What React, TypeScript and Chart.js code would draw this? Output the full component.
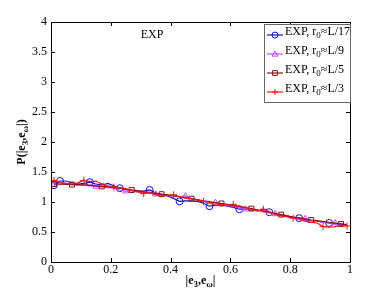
import React, { useEffect, useRef } from "react";
import { Chart, registerables } from "chart.js";

Chart.register(...registerables);

const xBins = [
  0.01, 0.03, 0.05, 0.07, 0.09, 0.11, 0.13, 0.15, 0.17, 0.19,
  0.21, 0.23, 0.25, 0.27, 0.29, 0.31, 0.33, 0.35, 0.37, 0.39,
  0.41, 0.43, 0.45, 0.47, 0.49, 0.51, 0.53, 0.55, 0.57, 0.59,
  0.61, 0.63, 0.65, 0.67, 0.69, 0.71, 0.73, 0.75, 0.77, 0.79,
  0.81, 0.83, 0.85, 0.87, 0.89, 0.91, 0.93, 0.95, 0.97, 0.99,
];

const seriesL17 = [
  1.28, 1.35, 1.35, 1.32, 1.3, 1.31, 1.33, 1.3, 1.28, 1.31,
  1.27, 1.23, 1.21, 1.2, 1.18, 1.18, 1.2, 1.15, 1.12, 1.1,
  1.06, 1.01, 1.02, 1.02, 1.01, 0.98, 0.93, 0.95, 0.95, 0.93,
  0.91, 0.88, 0.88, 0.87, 0.86, 0.85, 0.83, 0.8, 0.78, 0.76,
  0.74, 0.73, 0.71, 0.69, 0.68, 0.67, 0.65, 0.64, 0.63, 0.62,
];

const seriesL9 = [
  1.29, 1.3, 1.31, 1.29, 1.28, 1.28, 1.27, 1.26, 1.25, 1.24,
  1.23, 1.2, 1.18, 1.19, 1.17, 1.16, 1.15, 1.13, 1.11, 1.11,
  1.1, 1.08, 1.1, 1.05, 1.03, 1.01, 0.98, 0.99, 0.96, 0.94,
  0.93, 0.9, 0.88, 0.87, 0.86, 0.84, 0.82, 0.8, 0.78, 0.77,
  0.75, 0.73, 0.72, 0.69, 0.68, 0.66, 0.65, 0.65, 0.62, 0.61,
];

const seriesL5 = [
  1.3, 1.3, 1.295, 1.29, 1.29, 1.285, 1.28, 1.27, 1.26, 1.255,
  1.24, 1.23, 1.215, 1.2, 1.19, 1.17, 1.16, 1.145, 1.13, 1.12,
  1.1, 1.09, 1.07, 1.055, 1.04, 1.02, 1.005, 0.99, 0.975, 0.96,
  0.94, 0.925, 0.905, 0.89, 0.87, 0.85, 0.83, 0.81, 0.79, 0.77,
  0.75, 0.735, 0.72, 0.7, 0.69, 0.675, 0.66, 0.65, 0.635, 0.625,
];

const seriesL3 = [
  1.36, 1.33, 1.31, 1.3, 1.32, 1.36, 1.34, 1.35, 1.3, 1.27,
  1.25, 1.24, 1.22, 1.19, 1.17, 1.14, 1.16, 1.12, 1.1, 1.11,
  1.12, 1.09, 1.07, 1.05, 1.03, 1.01, 1.0, 0.94, 0.96, 0.95,
  0.96, 0.92, 0.91, 0.88, 0.85, 0.88, 0.84, 0.79, 0.77, 0.75,
  0.73, 0.71, 0.68, 0.66, 0.65, 0.59, 0.58, 0.59, 0.61, 0.6,
];

const legendNames = ["L/17", "L/9", "L/5", "L/3"];
const xTicks = [0, 0.2, 0.4, 0.6, 0.8, 1];
const yTicks = [0, 0.5, 1, 1.5, 2, 2.5, 3, 3.5, 4];

const colors = ["#1010d0", "#c048ff", "#8b1414", "#ff1010"];
const pointStyles = ["circle", "triangle", "rect", "cross"];
const markerSets = [
  [0, 1, 6, 11, 16, 21, 26, 31, 36, 41, 46],
  [0, 7, 12, 17, 22, 27, 32, 37, 42, 47],
  [0, 3, 8, 13, 18, 23, 28, 33, 38, 43, 48],
  [0, 5, 10, 15, 20, 25, 30, 35, 40, 45, 49],
];

const SERIF = '"Liberation Serif", "DejaVu Serif", serif';

type Part = { t: string; sub?: boolean };

function richWidth(ctx: CanvasRenderingContext2D, parts: Part[], size: number, bold: boolean) {
  let w = 0;
  for (const p of parts) {
    ctx.font = `${bold ? "bold " : ""}${p.sub ? Math.round(size * 0.72) : size}px ${SERIF}`;
    w += ctx.measureText(p.t).width;
  }
  return w;
}

function drawRich(
  ctx: CanvasRenderingContext2D,
  parts: Part[],
  x: number,
  y: number,
  size: number,
  bold: boolean,
  color: string
) {
  ctx.fillStyle = color;
  ctx.textBaseline = "alphabetic";
  ctx.textAlign = "left";
  let cx = x;
  for (const p of parts) {
    const s = p.sub ? Math.round(size * 0.72) : size;
    ctx.font = `${bold ? "bold " : ""}${s}px ${SERIF}`;
    ctx.fillText(p.t, cx, p.sub ? y + 3 : y);
    cx += ctx.measureText(p.t).width;
  }
}

function drawMarker(ctx: CanvasRenderingContext2D, style: string, x: number, y: number, r: number, color: string) {
  ctx.save();
  ctx.strokeStyle = color;
  ctx.lineWidth = 1;
  ctx.beginPath();
  if (style === "circle") {
    ctx.arc(x, y, r, 0, Math.PI * 2);
  } else if (style === "triangle") {
    ctx.moveTo(x, y - r);
    ctx.lineTo(x + r, y + r * 0.7);
    ctx.lineTo(x - r, y + r * 0.7);
    ctx.closePath();
  } else if (style === "rect") {
    ctx.rect(x - r * 0.8, y - r * 0.8, r * 1.6, r * 1.6);
  } else {
    ctx.moveTo(x - r, y);
    ctx.lineTo(x + r, y);
    ctx.moveTo(x, y - r);
    ctx.lineTo(x, y + r);
  }
  ctx.stroke();
  ctx.restore();
}

const framePlugin = {
  id: "framePlugin",
  afterDraw(chart: any) {
    const ctx: CanvasRenderingContext2D = chart.ctx;
    const { left, right, top, bottom } = chart.chartArea;
    const xs = chart.scales.x;
    const ys = chart.scales.y;
    ctx.save();
    ctx.strokeStyle = "#000";
    ctx.lineWidth = 1;
    ctx.strokeRect(Math.round(left) + 0.5, Math.round(top) + 0.5, Math.round(right - left), Math.round(bottom - top));
    const tl = 4;
    ctx.beginPath();
    for (const v of xTicks) {
      const px = Math.round(xs.getPixelForValue(v)) + 0.5;
      ctx.moveTo(px, bottom);
      ctx.lineTo(px, bottom - tl);
      ctx.moveTo(px, top);
      ctx.lineTo(px, top + tl);
    }
    for (const v of yTicks) {
      const py = Math.round(ys.getPixelForValue(v)) + 0.5;
      ctx.moveTo(left, py);
      ctx.lineTo(left + tl, py);
      ctx.moveTo(right, py);
      ctx.lineTo(right - tl, py);
    }
    ctx.stroke();

    ctx.font = `12px ${SERIF}`;
    ctx.fillStyle = "#000";
    ctx.textAlign = "center";
    ctx.textBaseline = "middle";
    ctx.fillText("EXP", 152, 35);

    const xParts: Part[] = [{ t: "|e" }, { t: "3", sub: true }, { t: ",e" }, { t: "ω", sub: true }, { t: "|" }];
    const xw = richWidth(ctx, xParts, 12, true);
    drawRich(ctx, xParts, (left + right) / 2 - xw / 2, 284, 12, true, "#000");

    const yParts: Part[] = [
      { t: "P(|e" },
      { t: "3", sub: true },
      { t: ",e" },
      { t: "ω", sub: true },
      { t: "|)" },
    ];
    const yw = richWidth(ctx, yParts, 12, true);
    ctx.save();
    ctx.translate(25, (top + bottom) / 2);
    ctx.rotate(-Math.PI / 2);
    drawRich(ctx, yParts, -yw / 2, 0, 12, true, "#000");
    ctx.restore();

    const lx = 264.5;
    const ly = 24.5;
    const lw = 86;
    const lh = 78;
    ctx.fillStyle = "#fff";
    ctx.fillRect(lx, ly, lw, lh);
    ctx.strokeStyle = "#666";
    ctx.lineWidth = 1;
    ctx.strokeRect(lx, ly, lw, lh);
    const rowY = [34, 53, 72, 91];
    for (let i = 0; i < 4; i++) {
      const y = rowY[i];
      ctx.strokeStyle = colors[i];
      ctx.lineWidth = 1.2;
      ctx.beginPath();
      ctx.moveTo(267, y + 1);
      ctx.lineTo(283, y + 1);
      ctx.stroke();
      drawMarker(ctx, pointStyles[i], 275, y + 1, 3, colors[i]);
      const parts: Part[] = [{ t: "EXP, r" }, { t: "0", sub: true }, { t: "≈" + legendNames[i] }];
      drawRich(ctx, parts, 285, y + 1, 12, false, "#000");
    }
    ctx.restore();
  },
};

const seriesList = [seriesL17, seriesL9, seriesL5, seriesL3];

export default function App() {
  const ref = useRef<HTMLCanvasElement | null>(null);
  useEffect(() => {
    if (!ref.current) return;
    const datasets = seriesList.map((vals, i) => ({
      label: "EXP, r0≈" + legendNames[i],
      data: xBins.map((x, j) => ({ x, y: vals[j] })),
      borderColor: colors[i],
      backgroundColor: "rgba(0,0,0,0)",
      borderWidth: 1.2,
      pointStyle: pointStyles[i] as any,
      pointBorderColor: colors[i],
      pointBackgroundColor: "rgba(0,0,0,0)",
      pointBorderWidth: 1,
      pointRadius: (c: any) => (markerSets[i].includes(c.dataIndex) ? 3.5 : 0),
      pointHoverRadius: 0,
      tension: 0,
      order: 3 - i,
    }));
    const chart = new Chart(ref.current, {
      type: "line",
      data: { datasets },
      options: {
        animation: false,
        responsive: false,
        devicePixelRatio: 1,
        layout: { padding: { top: 22, right: 40, left: 0, bottom: 0 } },
        plugins: { legend: { display: false }, tooltip: { enabled: false } },
        scales: {
          x: {
            type: "linear",
            min: 0,
            max: 1,
            afterBuildTicks: (s: any) => {
              s.ticks = xTicks.map((v) => ({ value: v }));
            },
            afterFit: (s: any) => {
              s.height = 32;
            },
            grid: { display: false, drawTicks: false, tickLength: 0 },
            border: { display: false },
            ticks: {
              color: "#000",
              font: { family: SERIF, size: 12 },
              padding: 1,
              maxRotation: 0,
              callback: (v: any) => String(v),
            },
          },
          y: {
            type: "linear",
            min: 0,
            max: 4,
            afterBuildTicks: (s: any) => {
              s.ticks = yTicks.map((v) => ({ value: v }));
            },
            afterFit: (s: any) => {
              s.width = 51;
            },
            grid: { display: false, drawTicks: false, tickLength: 0 },
            border: { display: false },
            ticks: {
              color: "#000",
              font: { family: SERIF, size: 12 },
              padding: 4,
              callback: (v: any) => String(v),
            },
          },
        },
      },
      plugins: [framePlugin],
    });
    return () => chart.destroy();
  }, []);
  return (
    <div style={{ position: "absolute", left: 0, top: 0, width: 390, height: 294, background: "#fff" }}>
      <canvas ref={ref} width={390} height={294} style={{ width: 390, height: 294 }} />
    </div>
  );
}
